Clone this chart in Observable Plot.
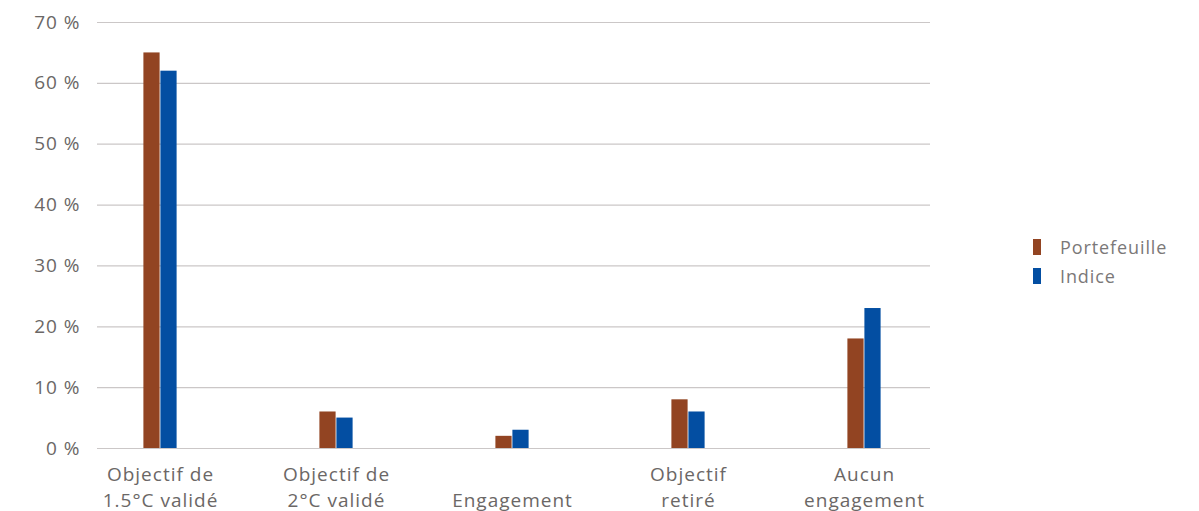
<!DOCTYPE html>
<html>
<head>
<meta charset="utf-8">
<script src="https://cdn.jsdelivr.net/npm/d3@7"></script>
<script src="https://cdn.jsdelivr.net/npm/@observablehq/plot@0.6"></script>
<style>
  html, body { margin: 0; padding: 0; background: #ffffff; }
  #wrap { position: relative; width: 1199px; height: 511px; font-family: "Open Sans", sans-serif; }
  #legend { position: absolute; left: 1033px; top: 232px; font-size: 18px; color: #7b7878; letter-spacing: 0.9px; }
  .item { display: flex; align-items: center; height: 29px; }
  .sw { width: 8px; height: 16px; margin-right: 19px; }
</style>
</head>
<body>
<div id="wrap"><div id="chart"></div><div id="legend"></div></div>
<script>
const categories = ["Objectif de\n1.5°C validé", "Objectif de\n2°C validé", "Engagement", "Objectif\nretiré", "Aucun\nengagement"];
const series = ["Portefeuille", "Indice"];
const portefeuille = [65, 6, 2, 8, 18];
const indice = [62, 5, 3, 6, 23];
const yTicks = [0, 10, 20, 30, 40, 50, 60, 70];
const colors = ["#924422", "#034ea2"];

const rows = categories.flatMap((c, i) => [
  {cat: c, series: series[0], value: portefeuille[i]},
  {cat: c, series: series[1], value: indice[i]}
]);

const xRange = [70, 954];
const band = (xRange[1] - xRange[0]) / categories.length;
const barW = 17;
const textColor = "#6b6766";

const chart = Plot.plot({
  width: 1199,
  height: 511,
  marginLeft: 97,
  marginRight: 269,
  marginTop: 22,
  marginBottom: 63,
  style: {fontFamily: "Open Sans, sans-serif", background: "#ffffff", overflow: "visible", letterSpacing: "1px"},
  x: {domain: categories, range: xRange, padding: 0},
  y: {domain: [0, 70]},
  color: {domain: series, range: colors},
  marks: [
    Plot.gridY(yTicks, {stroke: "#cbc7c7", strokeOpacity: 1, strokeWidth: 1.2}),
    Plot.axisY(yTicks, {tickSize: 0, tickPadding: 17, tickFormat: d => d + " %", fontSize: 19, fill: textColor, label: null}),
    Plot.barY(rows.filter(d => d.series === series[0]), {x: "cat", y: "value", fill: "series", insetLeft: band / 2 - barW, insetRight: band / 2}),
    Plot.barY(rows.filter(d => d.series === series[1]), {x: "cat", y: "value", fill: "series", insetLeft: band / 2, insetRight: band / 2 - barW}),
    Plot.axisX({tickSize: 0, tickPadding: 58, lineAnchor: "bottom", lineHeight: 1.35, fontSize: 19, fill: textColor, label: null})
  ]
});
document.getElementById("chart").append(chart);

const legend = document.getElementById("legend");
series.forEach((s, i) => {
  const item = document.createElement("div");
  item.className = "item";
  const sw = document.createElement("div");
  sw.className = "sw";
  sw.style.background = colors[i];
  const t = document.createElement("span");
  t.textContent = s;
  item.append(sw, t);
  legend.append(item);
});
</script>
</body>
</html>
